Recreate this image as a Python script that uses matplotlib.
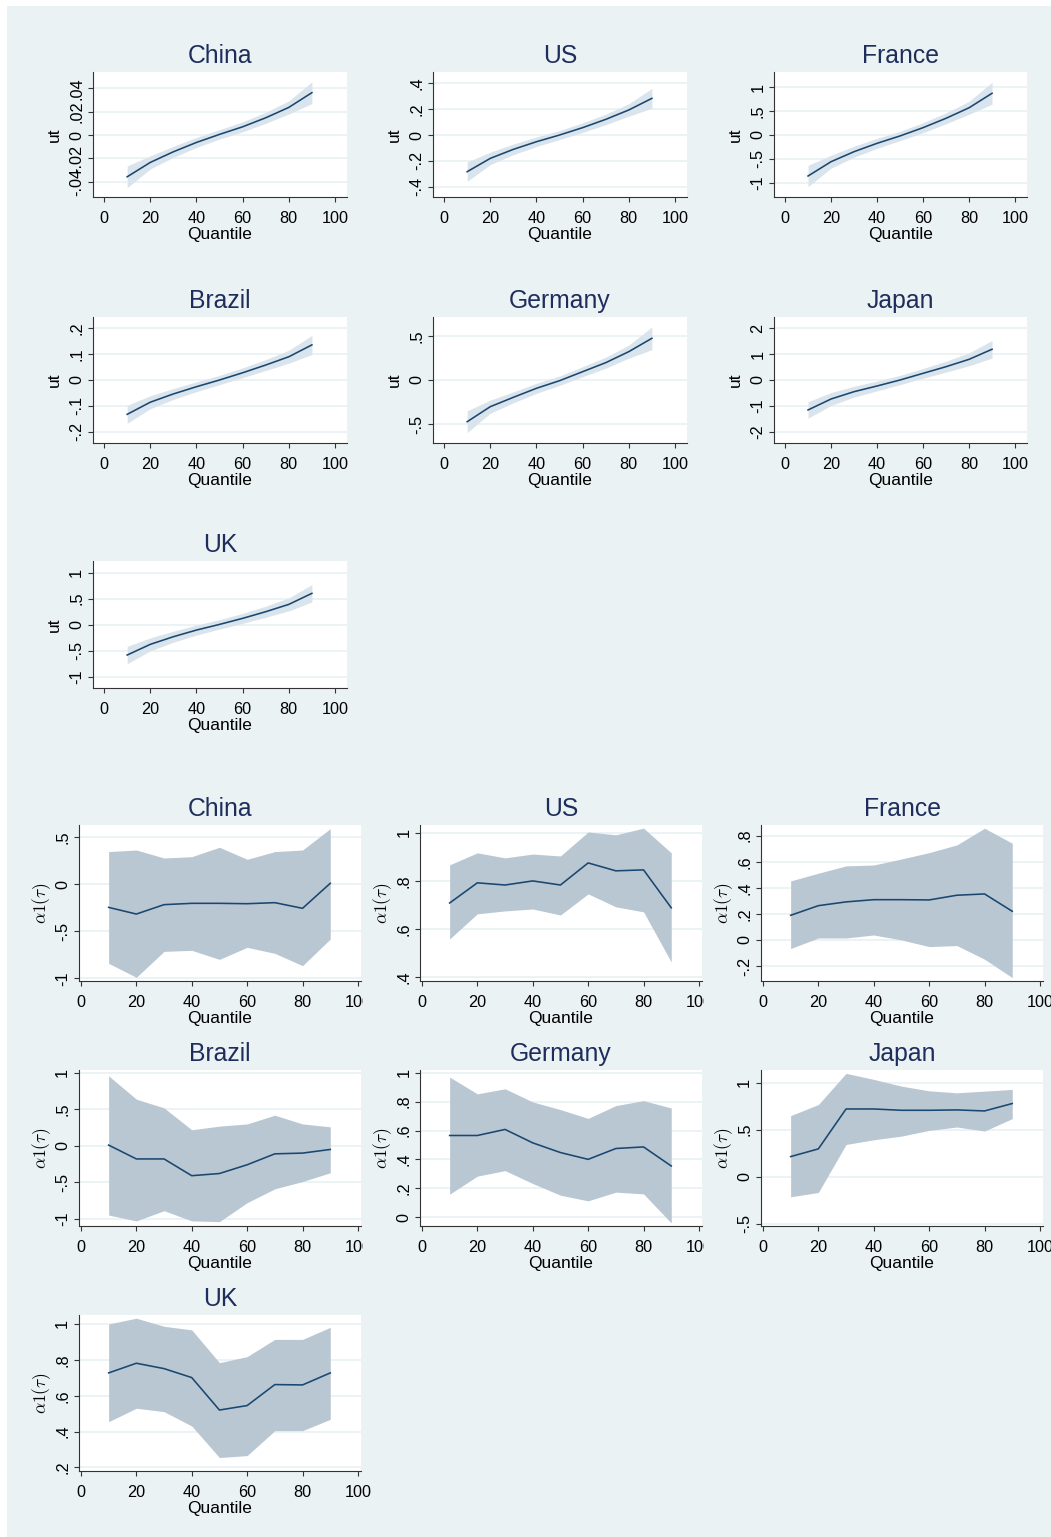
import matplotlib
matplotlib.use('Agg')
import matplotlib.pyplot as plt
from matplotlib.patches import Rectangle
from matplotlib.transforms import Bbox, TransformedBbox

plt.rcParams['font.family'] = ['Liberation Sans', 'DejaVu Sans']
plt.rcParams['mathtext.fontset'] = 'cm'

W, H = 1051, 1537
BG = '#EAF2F3'
NAVY = '#1A476F'
TITLE_C = '#1E2D5C'
AXIS_C = '#333333'
BAND_TOP = '#DAE4EC'
BAND_LOW = '#B9C7D3'

countries = ['China', 'US', 'France', 'Brazil', 'Germany', 'Japan', 'UK']
quant = [10, 20, 30, 40, 50, 60, 70, 80, 90]
xticks = [0, 20, 40, 60, 80, 100]

# ---- ut by quantile (upper block): fitted line and half-width of band ----
ut_china = [-0.0357, -0.0234, -0.0143, -0.0063, 0.0006, 0.0071, 0.0148, 0.0237, 0.0363]
ut_china_hw = [0.0093, 0.0056, 0.0047, 0.0043, 0.0040, 0.0043, 0.0047, 0.0056, 0.0093]
ut_us = [-0.284, -0.181, -0.111, -0.052, 0.0, 0.057, 0.121, 0.194, 0.284]
ut_us_hw = [0.075, 0.048, 0.041, 0.037, 0.035, 0.037, 0.041, 0.048, 0.077]
ut_france = [-0.86, -0.56, -0.35, -0.175, -0.02, 0.153, 0.35, 0.57, 0.874]
ut_france_hw = [0.224, 0.135, 0.115, 0.104, 0.098, 0.104, 0.115, 0.135, 0.23]
ut_brazil = [-0.133, -0.086, -0.054, -0.026, 0.0, 0.028, 0.058, 0.090, 0.136]
ut_brazil_hw = [0.035, 0.025, 0.021, 0.019, 0.018, 0.019, 0.021, 0.025, 0.037]
ut_germany = [-0.472, -0.302, -0.196, -0.094, -0.008, 0.094, 0.196, 0.321, 0.472]
ut_germany_hw = [0.123, 0.074, 0.062, 0.057, 0.053, 0.057, 0.062, 0.074, 0.128]
ut_japan = [-1.16, -0.736, -0.452, -0.232, 0.0, 0.258, 0.516, 0.80, 1.19]
ut_japan_hw = [0.32, 0.25, 0.21, 0.19, 0.18, 0.19, 0.21, 0.25, 0.34]
ut_uk = [-0.583, -0.378, -0.231, -0.103, 0.006, 0.122, 0.25, 0.391, 0.603]
ut_uk_hw = [0.167, 0.125, 0.106, 0.096, 0.09, 0.096, 0.106, 0.125, 0.167]

ut_ticks = [[-0.04, -0.02, 0, 0.02, 0.04], [-0.4, -0.2, 0, 0.2, 0.4], [-1, -0.5, 0, 0.5, 1],
            [-0.2, -0.1, 0, 0.1, 0.2], [-0.5, 0, 0.5], [-2, -1, 0, 1, 2], [-1, -0.5, 0, 0.5, 1]]
ut_ticklabels = [['-.04', '-.02', '0', '.02', '.04'], ['-.4', '-.2', '0', '.2', '.4'],
                 ['-1', '-.5', '0', '.5', '1'], ['-.2', '-.1', '0', '.1', '.2'],
                 ['-.5', '0', '.5'], ['-2', '-1', '0', '1', '2'], ['-1', '-.5', '0', '.5', '1']]
ut_ylims = [(-0.053, 0.054), (-0.48, 0.488), (-1.30, 1.32), (-0.244, 0.244),
            (-0.713, 0.713), (-2.44, 2.44), (-1.217, 1.225)]

# ---- alpha1(tau) by quantile (lower block): estimate, lower and upper bound ----
a1_china = [-0.245, -0.316, -0.216, -0.202, -0.202, -0.206, -0.195, -0.255, 0.011]
a1_china_lo = [-0.840, -0.989, -0.713, -0.702, -0.798, -0.670, -0.734, -0.865, -0.582]
a1_china_hi = [0.348, 0.365, 0.280, 0.294, 0.394, 0.266, 0.348, 0.365, 0.592]
a1_us = [0.708, 0.792, 0.783, 0.800, 0.783, 0.875, 0.842, 0.846, 0.688]
a1_us_lo = [0.558, 0.663, 0.675, 0.683, 0.658, 0.746, 0.692, 0.671, 0.462]
a1_us_hi = [0.867, 0.917, 0.896, 0.912, 0.904, 1.004, 0.992, 1.020, 0.917]
a1_france = [0.189, 0.263, 0.292, 0.309, 0.309, 0.307, 0.343, 0.353, 0.220]
a1_france_lo = [-0.066, 0.015, 0.015, 0.038, 0.0, -0.051, -0.043, -0.148, -0.289]
a1_france_hi = [0.453, 0.512, 0.568, 0.575, 0.621, 0.670, 0.729, 0.857, 0.742]
a1_brazil = [0.01, -0.18, -0.18, -0.41, -0.38, -0.26, -0.11, -0.10, -0.05]
a1_brazil_lo = [-0.95, -1.03, -0.89, -1.03, -1.04, -0.78, -0.59, -0.49, -0.37]
a1_brazil_hi = [0.96, 0.64, 0.52, 0.22, 0.27, 0.30, 0.42, 0.30, 0.26]
a1_germany = [0.566, 0.566, 0.608, 0.515, 0.448, 0.401, 0.476, 0.487, 0.355]
a1_germany_lo = [0.160, 0.285, 0.323, 0.234, 0.153, 0.114, 0.174, 0.162, -0.039]
a1_germany_hi = [0.970, 0.854, 0.889, 0.798, 0.745, 0.684, 0.773, 0.807, 0.756]
a1_japan = [0.214, 0.296, 0.721, 0.721, 0.707, 0.707, 0.711, 0.700, 0.779]
a1_japan_lo = [-0.214, -0.168, 0.343, 0.393, 0.432, 0.493, 0.529, 0.486, 0.618]
a1_japan_hi = [0.650, 0.768, 1.100, 1.036, 0.964, 0.914, 0.893, 0.911, 0.929]
a1_uk = [0.727, 0.781, 0.751, 0.701, 0.520, 0.545, 0.662, 0.660, 0.727]
a1_uk_lo = [0.455, 0.530, 0.511, 0.431, 0.255, 0.266, 0.405, 0.405, 0.468]
a1_uk_hi = [1.000, 1.032, 0.987, 0.967, 0.784, 0.818, 0.914, 0.914, 0.981]

a1_ticks = [[-1, -0.5, 0, 0.5], [0.4, 0.6, 0.8, 1], [-0.2, 0, 0.2, 0.4, 0.6, 0.8],
            [-1, -0.5, 0, 0.5, 1], [0, 0.2, 0.4, 0.6, 0.8, 1], [-0.5, 0, 0.5, 1],
            [0.2, 0.4, 0.6, 0.8, 1]]
a1_ticklabels = [['-1', '-.5', '0', '.5'], ['.4', '.6', '.8', '1'],
                 ['-.2', '0', '.2', '.4', '.6', '.8'], ['-1', '-.5', '0', '.5', '1'],
                 ['0', '.2', '.4', '.6', '.8', '1'], ['-.5', '0', '.5', '1'],
                 ['.2', '.4', '.6', '.8', '1']]
a1_ylims = [(-1.028, 0.631), (0.383, 1.033), (-0.315, 0.882), (-1.10, 1.04),
            (-0.060, 1.019), (-0.525, 1.136), (0.180, 1.050)]

ut_mid = [ut_china, ut_us, ut_france, ut_brazil, ut_germany, ut_japan, ut_uk]
ut_hw = [ut_china_hw, ut_us_hw, ut_france_hw, ut_brazil_hw, ut_germany_hw, ut_japan_hw, ut_uk_hw]
a1_mid = [a1_china, a1_us, a1_france, a1_brazil, a1_germany, a1_japan, a1_uk]
a1_lo = [a1_china_lo, a1_us_lo, a1_france_lo, a1_brazil_lo, a1_germany_lo, a1_japan_lo, a1_uk_lo]
a1_hi = [a1_china_hi, a1_us_hi, a1_france_hi, a1_brazil_hi, a1_germany_hi, a1_japan_hi, a1_uk_hi]

fig = plt.figure(figsize=(W / 100, H / 100), dpi=100, facecolor='white')
fig.patches.append(Rectangle((7 / W, 0), 1 - 7 / W, 1 - 6 / H, transform=fig.transFigure,
                             facecolor=BG, edgecolor='none', zorder=-10))


def px_rect(x0, x1, y0, y1):
    return [x0 / W, 1 - y1 / H, (x1 - x0) / W, (y1 - y0) / H]


def panel(rect, lo, mid, hi, band, yt, ytl, ylim, xlim, title, ylab, ylabpad):
    ax = fig.add_axes(rect)
    ax.set_facecolor('white')
    for t in yt:
        ax.axhline(t, color=BG, lw=1.3, zorder=0)
    ax.fill_between(quant, lo, hi, color=band, lw=0, zorder=1)
    ax.plot(quant, mid, color=NAVY, lw=1.15, zorder=2)
    ax.set_xlim(*xlim)
    ax.set_ylim(*ylim)
    ax.set_xticks(xticks)
    ax.set_yticks(yt)
    ax.set_yticklabels(ytl)
    for s in ['top', 'right']:
        ax.spines[s].set_visible(False)
    for s in ['left', 'bottom']:
        ax.spines[s].set_color(AXIS_C)
        ax.spines[s].set_linewidth(0.8)
    ax.tick_params(direction='out', length=3.8, width=0.8, color=AXIS_C,
                   labelsize=11.7, labelcolor='black')
    ax.tick_params(axis='x', pad=6.5)
    ax.tick_params(axis='y', pad=2.5, labelrotation=90)
    for lab in ax.get_yticklabels():
        lab.set_va('center')
    ax.set_xlabel('Quantile', fontsize=12.5, labelpad=0.5)
    ax.set_ylabel(ylab, fontsize=12.5, labelpad=ylabpad)
    ax.set_title(title, fontsize=17.8, color=TITLE_C, pad=6.5)
    return ax


top_cols = [(93, 347), (433, 687), (774, 1027)]
top_rows = [(72, 197), (317, 443), (561, 688)]
low_cols = [(79, 361), (420, 702), (761, 1043)]
low_rows = [(825, 981), (1070, 1226), (1315, 1471)]
clip_right = [363, 704, None]

for i, name in enumerate(countries):
    r, c = divmod(i, 3)
    lo = [m - h for m, h in zip(ut_mid[i], ut_hw[i])]
    hi = [m + h for m, h in zip(ut_mid[i], ut_hw[i])]
    panel(px_rect(*top_cols[c], *top_rows[r]), lo, ut_mid[i], hi, BAND_TOP,
          ut_ticks[i], ut_ticklabels[i], ut_ylims[i], (-4.8, 105.2), name, 'ut', 5)

low_axes = []
for i, name in enumerate(countries):
    r, c = divmod(i, 3)
    ax = panel(px_rect(*low_cols[c], *low_rows[r]), a1_lo[i], a1_mid[i], a1_hi[i], BAND_LOW,
               a1_ticks[i], a1_ticklabels[i], a1_ylims[i], (-0.7, 101.1), name,
               r'$\alpha1(\tau)$', 1.5)
    low_axes.append((ax, r, c))

fig.canvas.draw()
# the x labels of the first two rows are cut at the edge of their cell
for ax, r, c in low_axes:
    if r < 2 and clip_right[c] is not None:
        box = TransformedBbox(Bbox([[0, 0], [clip_right[c] / W, 1]]), fig.transFigure)
        for lab in ax.get_xticklabels():
            lab.set_clip_box(box)
            lab.set_clip_on(True)

fig.savefig('out.png', dpi=100, facecolor=fig.get_facecolor())
